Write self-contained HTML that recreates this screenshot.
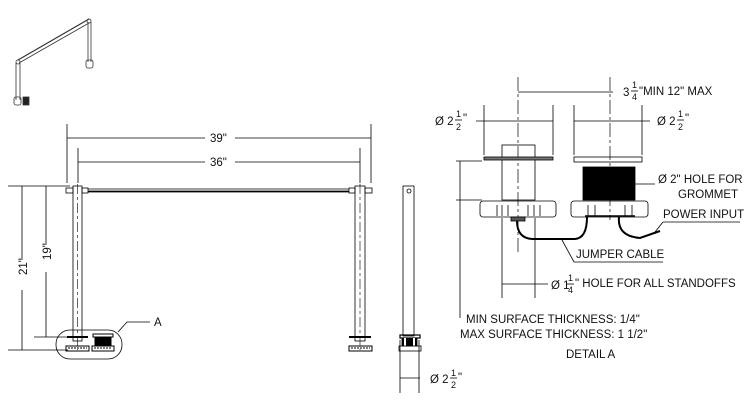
<!DOCTYPE html>
<html><head><style>
html,body{margin:0;padding:0;background:#fff;}
svg{display:block}
text{font-family:"Liberation Sans",sans-serif;font-size:11.5px;fill:#111;stroke:none;}
.s{font-size:9px}
</style></head><body>
<svg width="750" height="420" viewBox="0 0 750 420" xmlns="http://www.w3.org/2000/svg" stroke="#000" fill="none" stroke-width="0.8">
<!-- iso view -->
<g stroke="#333">
<line x1="16" y1="63" x2="16" y2="100"/><line x1="20" y1="63" x2="20" y2="100"/>
<line x1="88" y1="22" x2="88" y2="62"/><line x1="91" y1="22" x2="91" y2="62"/>
<line x1="18" y1="60" x2="89" y2="19" stroke-width="1.2"/><line x1="19" y1="63" x2="89" y2="23"/>
<circle cx="18" cy="62" r="2"/><circle cx="89" cy="21" r="2"/>
<rect x="14" y="97" width="7" height="8" rx="2"/><rect x="86" y="60" width="7" height="8" rx="2"/>
<rect x="23" y="97" width="6" height="8" fill="#222"/>
</g>
<!-- front view dims -->
<line x1="67" y1="124" x2="67" y2="183"/><line x1="371" y1="124" x2="371" y2="183"/>
<line x1="67" y1="138" x2="205" y2="138"/><line x1="235" y1="138" x2="371" y2="138"/>
<text x="210" y="142">39"</text>
<line x1="78" y1="148" x2="78" y2="183"/><line x1="360" y1="148" x2="360" y2="183"/>
<line x1="78" y1="162" x2="205" y2="162"/><line x1="235" y1="162" x2="360" y2="162"/>
<text x="210" y="166">36"</text>
<line x1="8" y1="186" x2="70" y2="186"/><line x1="8" y1="350" x2="68" y2="350"/>
<line x1="34" y1="337" x2="70" y2="337"/>
<line x1="22" y1="186" x2="22" y2="260"/><line x1="22" y1="290" x2="22" y2="350"/>
<line x1="46" y1="186" x2="46" y2="245"/><line x1="46" y1="272" x2="46" y2="337"/>
<text transform="translate(27,275) rotate(-90)">21"</text>
<text transform="translate(51,260) rotate(-90)">19"</text>
<!-- posts and bar -->
<rect x="73" y="186" width="9" height="155"/><rect x="355" y="186" width="10" height="155"/>
<line x1="77.5" y1="184" x2="77.5" y2="350" stroke-dasharray="10,3,3,3" stroke-width="0.6"/>
<line x1="360" y1="184" x2="360" y2="350" stroke-dasharray="10,3,3,3" stroke-width="0.6"/>
<rect x="66" y="188" width="7" height="5"/><rect x="82" y="188" width="6" height="5"/>
<rect x="349" y="188" width="6" height="5"/><rect x="365" y="188" width="7" height="5"/>
<line x1="88" y1="189" x2="349" y2="189"/><line x1="88" y1="191.5" x2="349" y2="191.5" stroke-width="1.8"/>
<!-- bottom pieces -->
<g stroke-width="1">
<line x1="67" y1="337" x2="88" y2="337" stroke-width="2"/>
<rect x="66" y="346" width="23" height="5"/><line x1="68" y1="348" x2="87" y2="348" stroke-dasharray="2,1"/>
<rect x="93" y="334" width="20" height="3"/><rect x="95" y="337" width="16" height="8" fill="#000"/>
<rect x="92" y="346" width="22" height="5"/><line x1="94" y1="348" x2="112" y2="348" stroke-dasharray="2,1"/>
<line x1="349" y1="337" x2="371" y2="337" stroke-width="2"/>
<rect x="349" y="346" width="23" height="5"/><line x1="351" y1="348" x2="370" y2="348" stroke-dasharray="2,1"/>
</g>
<rect x="56" y="330" width="66" height="29" rx="14" ry="14"/>
<polyline points="118,332 127,322 150,322"/>
<text x="154" y="326">A</text>
<!-- side view -->
<rect x="403" y="186" width="11" height="150"/><circle cx="409" cy="191" r="2"/>
<rect x="400" y="335" width="20" height="3" stroke-width="1.2"/>
<rect x="402" y="338" width="15" height="8" fill="#000"/><line x1="405" y1="338" x2="405" y2="346" stroke="#fff" stroke-width="2"/><line x1="414" y1="338" x2="414" y2="346" stroke="#fff" stroke-width="2"/>
<rect x="399" y="346" width="22" height="5"/>
<line x1="400" y1="340" x2="400" y2="393"/><line x1="419" y1="340" x2="419" y2="393"/>
<line x1="400" y1="378" x2="420" y2="378"/>
<text x="430" y="383">Ø 2</text><text class="s" x="451" y="376">1</text><line x1="450" y1="378" x2="457" y2="378"/><text class="s" x="451" y="388">2</text><text x="458" y="381">"</text>
<!-- detail A -->
<line x1="518" y1="77" x2="518" y2="255" stroke-dasharray="14,3,3,3" stroke-width="0.7"/>
<line x1="610" y1="77" x2="610" y2="220" stroke-dasharray="14,3,3,3" stroke-width="0.7"/>
<line x1="518" y1="92" x2="613" y2="92"/>
<text x="623" y="96">3</text><text class="s" x="632" y="88">1</text><line x1="631" y1="91" x2="638" y2="91"/><text class="s" x="632" y="100">4</text><text x="639" y="95">"MIN 12" MAX</text>
<line x1="484" y1="105" x2="484" y2="155"/><line x1="553" y1="105" x2="553" y2="155"/>
<line x1="476" y1="121" x2="553" y2="121"/>
<text x="435" y="125">Ø 2</text><text class="s" x="456" y="117">1</text><line x1="455" y1="120" x2="462" y2="120"/><text class="s" x="456" y="130">2</text><text x="463" y="122">"</text>
<line x1="574" y1="105" x2="574" y2="155"/><line x1="642" y1="105" x2="642" y2="155"/>
<line x1="574" y1="121" x2="650" y2="121"/>
<text x="657" y="125">Ø 2</text><text class="s" x="678" y="117">1</text><line x1="677" y1="120" x2="684" y2="120"/><text class="s" x="678" y="130">2</text><text x="685" y="122">"</text>
<!-- left standoff -->
<rect x="502" y="145" width="33" height="55"/>
<rect x="484" y="157" width="69" height="3" fill="#777"/>
<rect x="480" y="201" width="76" height="16" rx="3"/>
<line x1="497" y1="205" x2="497" y2="216"/><line x1="502" y1="205" x2="502" y2="216"/><line x1="508" y1="205" x2="508" y2="216"/><line x1="528" y1="205" x2="528" y2="216"/><line x1="534" y1="205" x2="534" y2="216"/><line x1="540" y1="205" x2="540" y2="216"/>
<rect x="511" y="217" width="14" height="4" fill="#555"/>
<!-- right grommet -->
<rect x="574" y="157" width="68" height="5"/>
<rect x="583" y="167" width="52" height="33" fill="#000"/>
<rect x="571" y="201" width="77" height="16" rx="3"/>
<line x1="588" y1="205" x2="588" y2="216"/><line x1="595" y1="205" x2="595" y2="216"/><line x1="625" y1="205" x2="625" y2="216"/><line x1="632" y1="205" x2="632" y2="216"/>
<line x1="585" y1="216" x2="635" y2="216" stroke-width="1.5"/>
<!-- cables -->
<path d="M517 221 Q517 238 532 239 L575 239 Q587 238 587 217" stroke-width="2"/>
<path d="M619 217 Q617 236 640 238 L660 231" stroke-width="2"/>
<polyline points="663,222 740,222" /><line x1="663" y1="222" x2="655" y2="232"/>
<text x="663" y="218">POWER INPUT</text>
<polyline points="562,240 574,262 663,262"/>
<text x="576" y="258">JUMPER CABLE</text>
<line x1="635" y1="184" x2="655" y2="184"/>
<text x="658" y="183">Ø 2" HOLE FOR</text><text x="678" y="198">GROMMET</text>
<!-- thickness -->
<line x1="456" y1="161" x2="482" y2="161"/><line x1="456" y1="200" x2="482" y2="200"/>
<line x1="460" y1="161" x2="460" y2="318"/>
<!-- 1 1/4 hole -->
<line x1="502" y1="218" x2="502" y2="298"/><line x1="535" y1="218" x2="535" y2="298"/>
<line x1="502" y1="284" x2="548" y2="284"/>
<text x="551" y="289">Ø 1</text><text class="s" x="568" y="281">1</text><line x1="567" y1="284" x2="574" y2="284"/><text class="s" x="568" y="293">4</text><text x="575" y="287">" HOLE FOR ALL STANDOFFS</text>
<text x="466" y="323">MIN SURFACE THICKNESS: 1/4"</text>
<text x="460" y="338">MAX SURFACE THICKNESS: 1 1/2"</text>
<text x="566" y="358">DETAIL A</text>
</svg>
</body></html>
